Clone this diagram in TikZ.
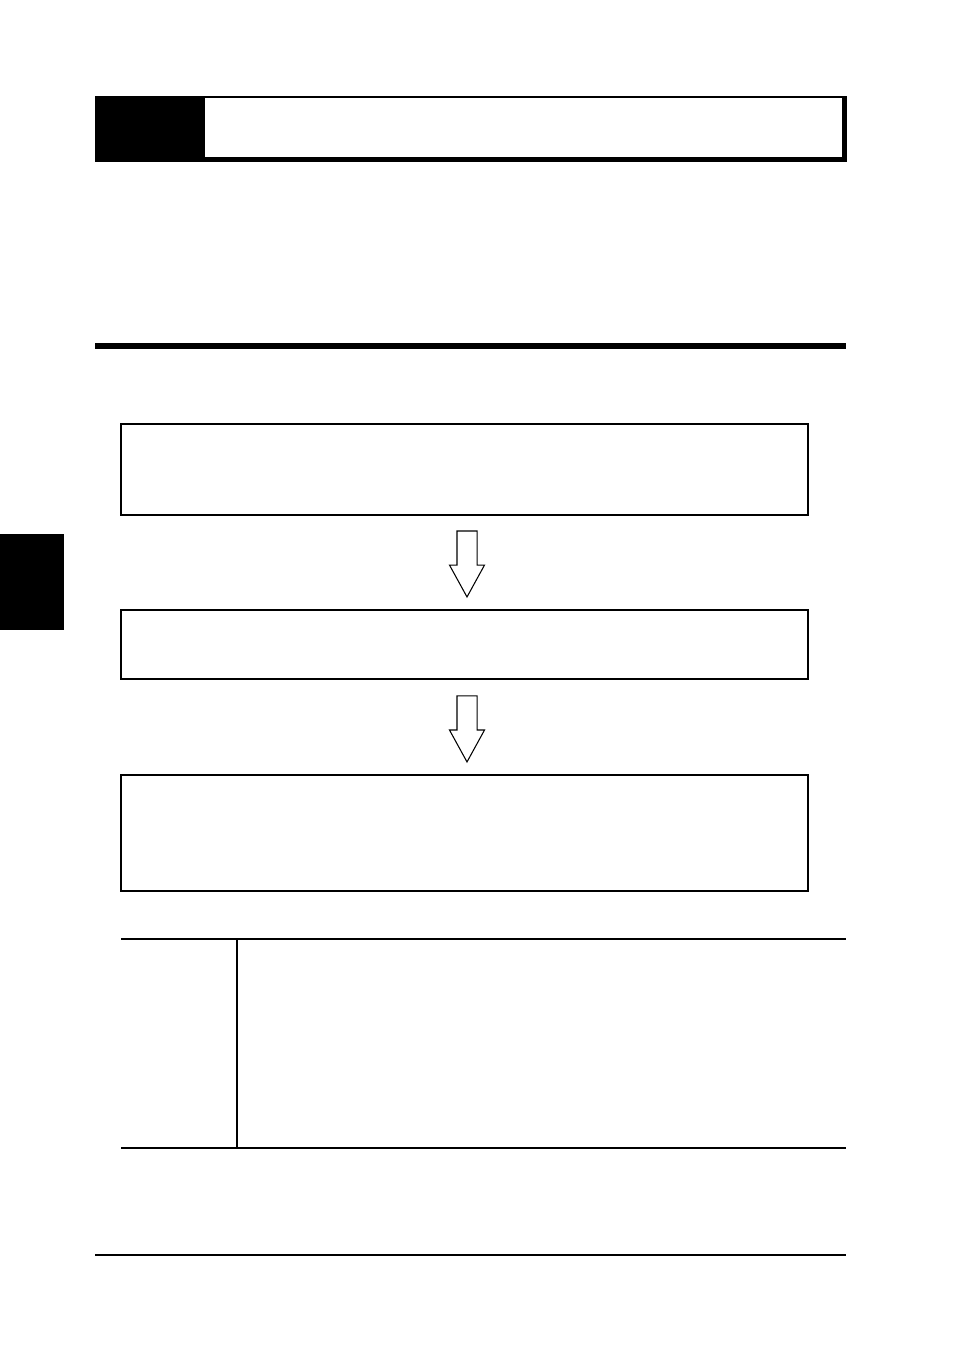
\documentclass[tikz,border=0pt]{standalone}
\usepackage{tikz}
\usetikzlibrary{positioning, shapes.arrows}

\begin{document}
\begin{tikzpicture}[x=0.02cm,y=-0.02cm,node distance=1.9cm,
		step box/.style={rectangle,draw,line width=0.8pt,minimum width=13.74cm,inner sep=0pt,outer sep=0pt},
		down arrow/.style={single arrow,draw,line width=0.6pt,shape border rotate=270,
			minimum height=1.32cm,minimum width=0.68cm,inner sep=0.19cm,
			single arrow head extend=0.15cm,single arrow tip angle=57.5,outer sep=0pt}]
	
	\useasboundingbox (0,0) rectangle (954,1351);
	
	% header bar
	\fill (95,96) rectangle (847,162);
	\fill[white] (205,98) rectangle (842,157);
	
	% thick rule
	\fill (95,343) rectangle (846,349);
	
	% side tab
	\fill (0,534) rectangle (64,630);
	
	% flow boxes
	\node[step box,minimum height=1.82cm] (box1) at (464.5,469.5) {};
	\node[step box,minimum height=1.38cm] (box2) [below=of box1] {};
	\node[step box,minimum height=2.32cm] (box3) [below=1.92cm of box2] {};
	
	\node[down arrow] (arr1) [below=0.32cm of box1,xshift=0.05cm] {};
	\node[down arrow] (arr2) [below=0.34cm of box2,xshift=0.05cm] {};
	
	% table
	\coordinate (tl) at (121,939);
	\coordinate (tr) at (846,939);
	\coordinate (bl) at (121,1148);
	\coordinate (br) at (846,1148);
	\coordinate (ct) at (237,939);
	\coordinate (cb) at (237,1148);
	\draw[line width=0.8pt] (tl) -- (tr);
	\draw[line width=0.8pt] (bl) -- (br);
	\draw[line width=0.6pt] (ct) -- (cb);
	
	% bottom rule
	\coordinate (fl) at (95,1255);
	\coordinate (fr) at (846,1255);
	\draw[line width=1pt] (fl) -- (fr);
\end{tikzpicture}
\end{document}
